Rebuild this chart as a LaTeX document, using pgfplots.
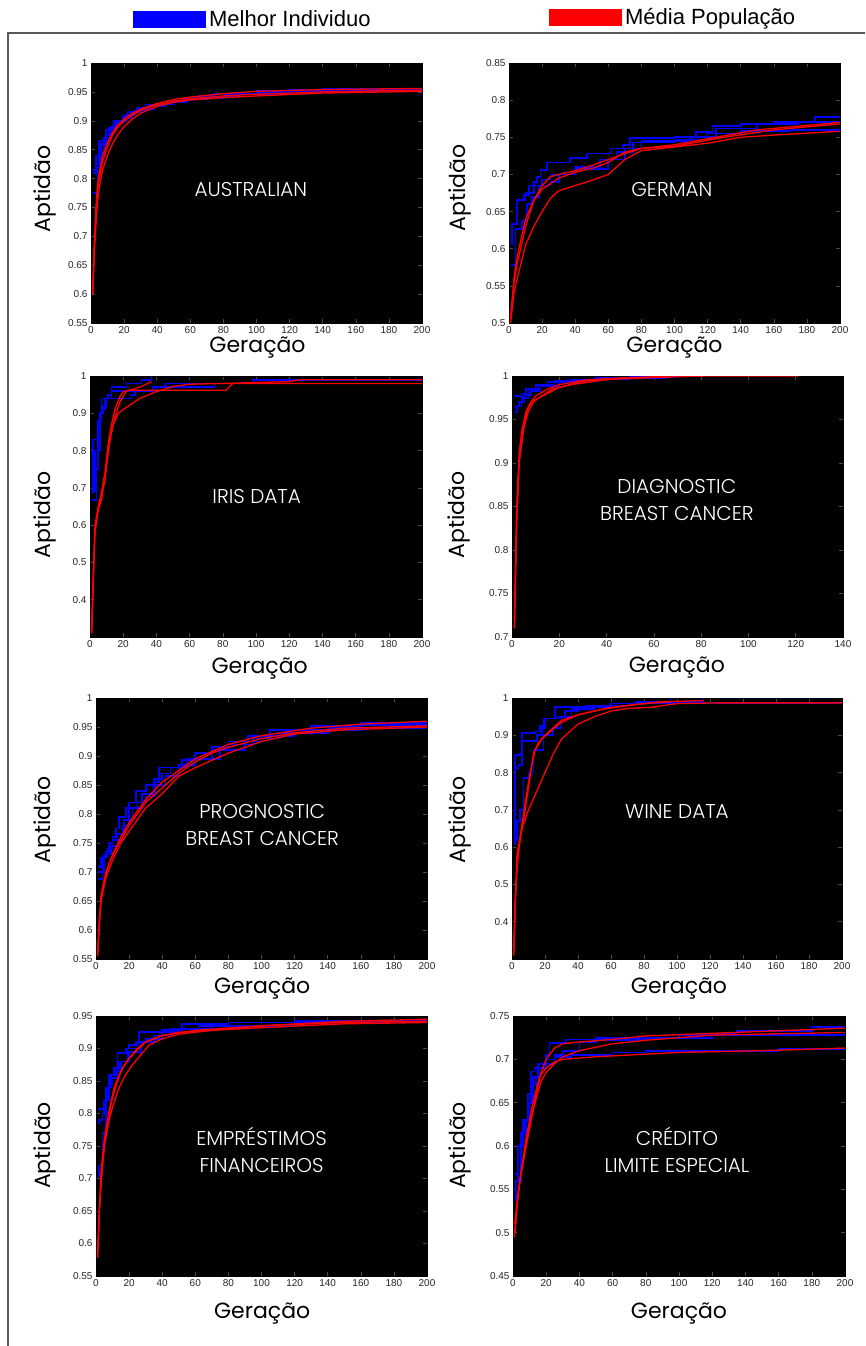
\documentclass[border=0pt]{standalone}
\usepackage{fontspec}
\usepackage{pgfplots}
\pgfplotsset{compat=1.18}
\setmainfont{Liberation Sans}
\newfontfamily\geo{Poppins}
\newfontfamily\geolight{Poppins Light}
\newcommand\tickfont{\fontsize{10}{12}\selectfont}
\newcommand\labfont{\geo\fontsize{22}{24}\selectfont}
\newcommand\titfont{\geolight\fontsize{20}{27}\selectfont}
\newcommand\legfont{\fontsize{22}{24}\selectfont}
\pgfplotsset{
  panel/.style={
    scale only axis,
    axis background/.style={fill=black},
    xmin=0, xmax=200, xtick={0,20,...,200},
    tick label style={font=\tickfont, text=black!85},
    /pgf/number format/assume math mode=true,
    axis line style={black, line width=0.6pt},
    tick style={gray!60!black, line width=0.5pt},
    tick align=inside,
    major tick length=4pt,
    xlabel={Geração}, ylabel={Aptidão},
    label style={font=\labfont},
  },
  best/.style={blue, const plot, line width=1.7pt},
  mean/.style={red, line width=1.3pt},
  leg/.style={legend style={draw=none, fill=none, at={#1}, anchor=west, font=\legfont, inner sep=0pt, nodes={inner xsep=3.5pt}}, legend cell align=left},
}
\begin{document}
\begin{tikzpicture}
\path[use as bounding box] (0pt,0pt) rectangle (865pt,-1346pt);
\draw[gray!70!black, line width=1.5pt] (8pt,-1346pt) -- (8pt,-33pt) -- (865pt,-33pt);

% ---------------- AUSTRALIAN
\begin{axis}[panel, at={(91pt,-323pt)}, anchor=south west, width=331pt, height=260pt,
  ymin=0.55, ymax=1, ytick={0.55,0.6,0.65,0.7,0.75,0.8,0.85,0.9,0.95,1},
  ylabel style={at={(axis description cs:-0.139,0.515)}, anchor=center},
  xlabel style={at={(axis description cs:0.503,-0.094)}, anchor=center},
  leg={(axis description cs:0.127,1.169)}]
\addlegendimage{legend image code/.code={\fill[blue] (0pt,-8pt) rectangle (72pt,8pt);}}
\addlegendentry{Melhor Individuo}
\addplot[best] coordinates {(1,0.81)(3,0.84)(5,0.865)(9,0.885)(14,0.90)(19,0.908)(22,0.915)(28,0.922)(33,0.928)(45,0.933)(55,0.938)(65,0.943)(75,0.947)(100,0.951)(120,0.953)(140,0.955)(170,0.956)(200,0.957)};
\addplot[best] coordinates {(1,0.775)(4,0.82)(6,0.86)(9,0.875)(11,0.887)(15,0.897)(20,0.905)(24,0.915)(30,0.92)(38,0.928)(50,0.935)(62,0.94)(80,0.946)(100,0.95)(130,0.953)(160,0.955)(200,0.956)};
\addplot[best] coordinates {(1,0.815)(3,0.825)(5,0.845)(8,0.87)(12,0.89)(16,0.9)(21,0.91)(26,0.918)(35,0.926)(45,0.932)(58,0.938)(70,0.942)(90,0.946)(120,0.95)(150,0.952)(200,0.954)};
\addplot[mean] coordinates {(1,0.6)(2,0.68)(3,0.74)(4,0.78)(5,0.8)(7,0.83)(10,0.855)(13,0.875)(16,0.888)(20,0.9)(25,0.91)(30,0.918)(40,0.928)(50,0.934)(60,0.938)(80,0.943)(100,0.946)(140,0.95)(200,0.953)};
\addplot[mean] coordinates {(1,0.6)(2,0.67)(3,0.72)(4,0.76)(5,0.785)(7,0.815)(10,0.84)(13,0.86)(16,0.875)(20,0.89)(25,0.903)(30,0.913)(40,0.925)(50,0.932)(60,0.936)(80,0.94)(100,0.943)(140,0.948)(200,0.951)};
\addplot[mean] coordinates {(1,0.6)(2,0.69)(3,0.75)(4,0.79)(5,0.81)(7,0.84)(10,0.862)(13,0.88)(16,0.892)(20,0.903)(25,0.913)(30,0.92)(40,0.93)(50,0.937)(60,0.941)(80,0.947)(100,0.951)(140,0.954)(200,0.956)};
\node[font=\titfont, text=white, align=center] at (axis description cs:0.483,0.512) {AUSTRALIAN};
\end{axis}

% ---------------- GERMAN
\begin{axis}[panel, at={(509pt,-323pt)}, anchor=south west, width=331pt, height=260pt,
  ymin=0.5, ymax=0.85, ytick={0.5,0.55,0.6,0.65,0.7,0.75,0.8,0.85},
  ylabel style={at={(axis description cs:-0.148,0.519)}, anchor=center},
  xlabel style={at={(axis description cs:0.5,-0.094)}, anchor=center},
  leg={(axis description cs:0.121,1.175)}]
\addlegendimage{legend image code/.code={\fill[red] (0pt,-8pt) rectangle (72pt,8pt);}}
\addlegendentry{Média População}
\addplot[best] coordinates {(1,0.606)(2,0.634)(5,0.666)(9,0.672)(12,0.685)(15,0.69)(17,0.697)(19,0.706)(23,0.716)(37,0.722)(47,0.728)(62,0.735)(69,0.74)(73,0.749)(100,0.75)(113,0.757)(123,0.765)(140,0.768)(160,0.771)(185,0.777)(200,0.777)};
\addplot[best] coordinates {(1,0.578)(4,0.627)(8,0.637)(11,0.66)(14,0.67)(18,0.685)(25,0.69)(30,0.70)(40,0.71)(55,0.72)(65,0.73)(75,0.743)(100,0.747)(120,0.755)(140,0.758)(170,0.76)(200,0.762)};
\addplot[best] coordinates {(1,0.633)(5,0.666)(10,0.675)(15,0.685)(20,0.693)(25,0.70)(40,0.707)(60,0.72)(70,0.735)(80,0.745)(110,0.75)(125,0.762)(150,0.768)(175,0.771)(200,0.772)};
\addplot[mean] coordinates {(1,0.505)(3,0.56)(5,0.59)(8,0.62)(10,0.64)(15,0.665)(20,0.685)(25,0.697)(30,0.70)(40,0.705)(50,0.712)(60,0.72)(70,0.728)(80,0.735)(100,0.74)(120,0.748)(150,0.76)(200,0.77)};
\addplot[mean] coordinates {(1,0.51)(3,0.555)(5,0.58)(10,0.63)(15,0.665)(20,0.68)(30,0.695)(40,0.703)(50,0.708)(60,0.716)(70,0.73)(80,0.735)(100,0.738)(130,0.75)(160,0.76)(200,0.768)};
\addplot[mean] coordinates {(1,0.5)(3,0.54)(5,0.56)(10,0.605)(15,0.63)(20,0.65)(25,0.668)(30,0.678)(40,0.685)(50,0.692)(60,0.70)(65,0.71)(70,0.72)(80,0.732)(100,0.737)(120,0.742)(140,0.75)(160,0.753)(200,0.758)};
\node[font=\titfont, text=white, align=center] at (axis description cs:0.492,0.512) {GERMAN};
\end{axis}

% ---------------- IRIS
\begin{axis}[panel, at={(90pt,-637pt)}, anchor=south west, width=332pt, height=261pt,
  ymin=0.3, ymax=1, ytick={0.4,0.5,0.6,0.7,0.8,0.9,1},
  ylabel style={at={(axis description cs:-0.136,0.467)}, anchor=center},
  xlabel style={at={(axis description cs:0.511,-0.119)}, anchor=center}]
\addplot[best] coordinates {(1,0.687)(2,0.83)(5,0.88)(7,0.94)(13,0.97)(22,0.98)(31,0.99)(37,1.0)};
\addplot[best] coordinates {(1,0.667)(4,0.75)(5,0.88)(7,0.91)(9,0.94)(11,0.95)(13,0.96)(40,0.97)(45,0.98)(98,0.99)(200,0.99)};
\addplot[best] coordinates {(1,0.69)(3,0.8)(6,0.9)(8,0.92)(10,0.94)(25,0.95)(27,0.96)(38,0.97)(75,0.98)(200,0.98)};
\addplot[mean] coordinates {(1,0.31)(2,0.45)(3,0.6)(5,0.65)(7,0.68)(9,0.72)(11,0.8)(13,0.85)(15,0.89)(18,0.93)(22,0.96)(30,0.97)(37,0.985)};
\addplot[mean] coordinates {(1,0.32)(2,0.47)(3,0.58)(5,0.64)(7,0.67)(10,0.76)(12,0.83)(14,0.87)(17,0.9)(20,0.91)(25,0.925)(30,0.94)(40,0.958)(50,0.972)(60,0.978)(80,0.98)(120,0.985)(126,0.99)(200,0.99)};
\addplot[mean] coordinates {(1,0.31)(2,0.46)(3,0.59)(5,0.65)(7,0.69)(9,0.74)(11,0.82)(13,0.87)(15,0.91)(18,0.945)(20,0.958)(24,0.962)(82,0.962)(86,0.98)(200,0.98)};
\node[font=\titfont, text=white, align=center] at (axis description cs:0.502,0.538) {IRIS DATA};
\end{axis}

% ---------------- DIAGNOSTIC
\begin{axis}[panel, at={(512pt,-637pt)}, anchor=south west, width=331pt, height=261pt,
  xmax=140, xtick={0,20,...,140},
  ymin=0.7, ymax=1, ytick={0.7,0.75,0.8,0.85,0.9,0.95,1},
  ylabel style={at={(axis description cs:-0.159,0.467)}, anchor=center},
  xlabel style={at={(axis description cs:0.498,-0.117)}, anchor=center}]
\addplot[best] coordinates {(1,0.977)(4,0.98)(6,0.985)(10,0.99)(18,0.995)(35,0.998)(65,1.0)(81,1.0)};
\addplot[best] coordinates {(1,0.958)(2,0.965)(4,0.975)(7,0.985)(11,0.99)(15,0.993)(25,0.996)(40,0.998)(55,1.0)(67,1.0)};
\addplot[best] coordinates {(1,0.965)(3,0.97)(5,0.978)(8,0.983)(12,0.988)(20,0.993)(30,0.996)(50,0.999)(70,1.0)(81,1.0)};
\addplot[mean] coordinates {(1,0.711)(2,0.85)(3,0.91)(4,0.935)(6,0.96)(8,0.97)(10,0.977)(15,0.985)(20,0.99)(30,0.995)(40,0.997)(60,0.999)(80,1.0)(121,1.0)};
\addplot[mean] coordinates {(1,0.72)(2,0.84)(3,0.9)(5,0.945)(7,0.965)(10,0.973)(15,0.98)(20,0.987)(30,0.994)(50,0.998)(81,1.0)};
\addplot[mean] coordinates {(1,0.71)(2,0.83)(3,0.9)(5,0.94)(7,0.96)(9,0.97)(12,0.976)(17,0.985)(25,0.99)(40,0.996)(67,0.999)};
\node[font=\titfont, text=white, align=center] at (axis description cs:0.498,0.524) {DIAGNOSTIC\\BREAST CANCER};
\end{axis}

% ---------------- PROGNOSTIC
\begin{axis}[panel, at={(96pt,-959pt)}, anchor=south west, width=331pt, height=261pt,
  ymin=0.55, ymax=1, ytick={0.55,0.6,0.65,0.7,0.75,0.8,0.85,0.9,0.95,1},
  ylabel style={at={(axis description cs:-0.155,0.533)}, anchor=center},
  xlabel style={at={(axis description cs:0.502,-0.113)}, anchor=center}]
\addplot[best] coordinates {(1,0.709)(3,0.725)(6,0.735)(8,0.75)(10,0.76)(12,0.775)(14,0.795)(18,0.81)(20,0.82)(24,0.84)(30,0.85)(35,0.86)(40,0.87)(45,0.88)(52,0.893)(60,0.905)(70,0.915)(80,0.925)(92,0.935)(105,0.945)(130,0.952)(160,0.957)(200,0.96)};
\addplot[best] coordinates {(1,0.688)(4,0.725)(7,0.74)(10,0.755)(16,0.78)(20,0.81)(25,0.82)(30,0.83)(36,0.855)(38,0.88)(55,0.895)(70,0.91)(80,0.92)(95,0.93)(110,0.94)(140,0.948)(200,0.952)};
\addplot[best] coordinates {(1,0.70)(5,0.73)(9,0.745)(13,0.765)(17,0.79)(22,0.81)(28,0.835)(35,0.85)(42,0.865)(50,0.885)(60,0.895)(75,0.91)(90,0.925)(100,0.935)(120,0.945)(160,0.953)(200,0.958)};
\addplot[mean] coordinates {(1,0.555)(2,0.62)(4,0.67)(6,0.695)(8,0.715)(12,0.74)(16,0.76)(20,0.78)(25,0.8)(30,0.82)(40,0.845)(50,0.87)(60,0.89)(70,0.905)(80,0.915)(100,0.93)(120,0.94)(150,0.948)(200,0.952)};
\addplot[mean] coordinates {(1,0.56)(3,0.66)(6,0.7)(10,0.73)(15,0.76)(20,0.785)(30,0.825)(40,0.855)(50,0.875)(60,0.895)(80,0.92)(100,0.935)(130,0.948)(160,0.955)(200,0.96)};
\addplot[mean] coordinates {(1,0.56)(3,0.65)(6,0.69)(10,0.72)(15,0.75)(20,0.77)(25,0.79)(30,0.81)(40,0.835)(50,0.865)(60,0.88)(80,0.905)(100,0.925)(120,0.938)(150,0.945)(200,0.95)};
\node[font=\titfont, text=white, align=center] at (axis description cs:0.502,0.513) {PROGNOSTIC\\BREAST CANCER};
\end{axis}

% ---------------- WINE
\begin{axis}[panel, at={(512pt,-959pt)}, anchor=south west, width=330pt, height=261pt,
  ymin=0.3, ymax=1, ytick={0.4,0.5,0.6,0.7,0.8,0.9,1},
  ylabel style={at={(axis description cs:-0.159,0.533)}, anchor=center},
  xlabel style={at={(axis description cs:0.506,-0.113)}, anchor=center}]
\addplot[best] coordinates {(1,0.607)(2,0.848)(5,0.85)(6,0.906)(14,0.91)(17,0.925)(19,0.945)(26,0.975)(45,0.98)(60,0.985)(75,0.99)(96,1.0)};
\addplot[best] coordinates {(1,0.62)(2,0.812)(4,0.82)(6,0.884)(12,0.885)(15,0.9)(18,0.92)(20,0.945)(28,0.95)(32,0.965)(40,0.975)(60,0.985)(75,0.99)(116,1.0)};
\addplot[best] coordinates {(1,0.62)(3,0.67)(5,0.7)(7,0.785)(10,0.8)(13,0.86)(19,0.9)(25,0.92)(30,0.95)(36,0.97)(50,0.98)(70,0.985)(125,0.987)(200,0.987)};
\addplot[mean] coordinates {(1,0.31)(2,0.45)(3,0.55)(5,0.62)(8,0.7)(10,0.76)(13,0.85)(16,0.88)(20,0.9)(25,0.92)(30,0.94)(40,0.955)(50,0.965)(60,0.975)(80,0.985)(96,0.99)};
\addplot[mean] coordinates {(1,0.32)(2,0.47)(4,0.6)(6,0.65)(10,0.7)(15,0.75)(20,0.8)(25,0.85)(30,0.89)(40,0.93)(50,0.95)(60,0.965)(70,0.972)(84,0.975)(100,0.985)(125,0.987)(200,0.987)};
\addplot[mean] coordinates {(1,0.31)(3,0.58)(5,0.63)(8,0.72)(11,0.8)(14,0.86)(18,0.89)(23,0.91)(30,0.935)(40,0.955)(55,0.97)(70,0.98)(90,0.99)(116,0.993)};
\node[font=\titfont, text=white, align=center] at (axis description cs:0.5,0.567) {WINE DATA};
\end{axis}

% ---------------- EMPRESTIMOS
\begin{axis}[panel, at={(96pt,-1276pt)}, anchor=south west, width=331pt, height=260pt,
  ymin=0.55, ymax=0.95, ytick={0.55,0.6,0.65,0.7,0.75,0.8,0.85,0.9,0.95},
  ylabel style={at={(axis description cs:-0.155,0.502)}, anchor=center},
  xlabel style={at={(axis description cs:0.502,-0.144)}, anchor=center}]
\addplot[best] coordinates {(1,0.807)(5,0.81)(6,0.84)(8,0.859)(12,0.865)(13,0.893)(18,0.9)(20,0.905)(24,0.91)(26,0.925)(40,0.928)(52,0.938)(80,0.94)(120,0.942)(200,0.945)};
\addplot[best] coordinates {(1,0.785)(2,0.79)(4,0.8)(5,0.82)(7,0.84)(9,0.86)(11,0.87)(14,0.88)(19,0.9)(25,0.91)(30,0.915)(40,0.925)(50,0.93)(62,0.935)(100,0.94)(200,0.945)};
\addplot[best] coordinates {(1,0.703)(2,0.72)(4,0.77)(6,0.82)(8,0.845)(10,0.855)(13,0.865)(15,0.88)(20,0.895)(27,0.91)(35,0.92)(45,0.93)(70,0.935)(120,0.94)(200,0.943)};
\addplot[mean] coordinates {(1,0.578)(2,0.65)(4,0.72)(6,0.77)(8,0.8)(10,0.825)(13,0.85)(16,0.87)(20,0.885)(25,0.9)(30,0.91)(40,0.92)(50,0.925)(70,0.928)(100,0.932)(150,0.938)(200,0.94)};
\addplot[mean] coordinates {(1,0.59)(3,0.7)(5,0.75)(8,0.79)(10,0.81)(14,0.84)(18,0.86)(22,0.875)(27,0.89)(32,0.905)(40,0.915)(50,0.922)(70,0.928)(100,0.935)(150,0.94)(200,0.942)};
\addplot[mean] coordinates {(1,0.58)(3,0.71)(5,0.76)(8,0.805)(11,0.84)(15,0.865)(20,0.885)(25,0.898)(30,0.91)(40,0.92)(60,0.928)(100,0.935)(150,0.942)(200,0.945)};
\node[font=\titfont, text=white, align=center] at (axis description cs:0.5,0.486) {EMPRÉSTIMOS\\FINANCEIROS};
\end{axis}

% ---------------- CREDITO
\begin{axis}[panel, at={(513pt,-1276pt)}, anchor=south west, width=332pt, height=260pt,
  ymin=0.45, ymax=0.75, ytick={0.45,0.5,0.55,0.6,0.65,0.7,0.75},
  ylabel style={at={(axis description cs:-0.161,0.502)}, anchor=center},
  xlabel style={at={(axis description cs:0.5,-0.144)}, anchor=center}]
\addplot[best] coordinates {(1,0.568)(3,0.58)(5,0.615)(7,0.63)(9,0.65)(11,0.686)(13,0.69)(15,0.695)(20,0.705)(22,0.719)(32,0.723)(50,0.725)(100,0.728)(120,0.73)(135,0.733)(180,0.737)(200,0.737)};
\addplot[best] coordinates {(1,0.538)(2,0.56)(5,0.6)(8,0.63)(10,0.65)(12,0.67)(14,0.68)(16,0.69)(20,0.7)(25,0.703)(35,0.705)(60,0.708)(80,0.71)(120,0.71)(160,0.712)(200,0.713)};
\addplot[best] coordinates {(1,0.56)(3,0.6)(6,0.63)(9,0.66)(12,0.68)(15,0.69)(20,0.695)(25,0.705)(30,0.71)(40,0.72)(50,0.722)(80,0.725)(120,0.728)(200,0.732)};
\addplot[mean] coordinates {(1,0.495)(3,0.54)(5,0.57)(8,0.6)(11,0.63)(14,0.66)(17,0.685)(20,0.7)(25,0.713)(30,0.718)(40,0.72)(60,0.723)(80,0.727)(120,0.73)(160,0.733)(200,0.736)};
\addplot[mean] coordinates {(1,0.5)(3,0.545)(6,0.58)(10,0.625)(14,0.655)(17,0.675)(20,0.685)(25,0.695)(30,0.703)(40,0.71)(60,0.718)(80,0.722)(120,0.728)(200,0.731)};
\addplot[mean] coordinates {(1,0.51)(4,0.56)(8,0.61)(12,0.65)(16,0.68)(20,0.69)(25,0.697)(30,0.7)(50,0.703)(70,0.705)(100,0.708)(150,0.71)(200,0.713)};
\node[font=\titfont, text=white, align=center] at (axis description cs:0.494,0.486) {CRÉDITO\\LIMITE ESPECIAL};
\end{axis}
\end{tikzpicture}
\end{document}
